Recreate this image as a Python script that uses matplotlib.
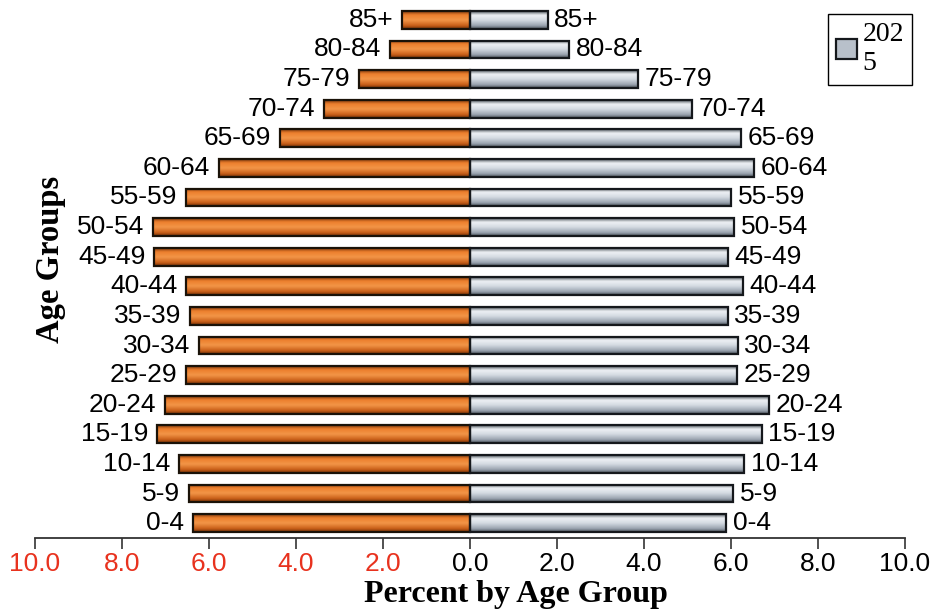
import matplotlib.pyplot as plt
import numpy as np
from matplotlib.colors import LinearSegmentedColormap
from matplotlib.patches import Patch

# Age groups, bottom to top
age_groups = ['0-4', '5-9', '10-14', '15-19', '20-24', '25-29', '30-34', '35-39', '40-44',
              '45-49', '50-54', '55-59', '60-64', '65-69', '70-74', '75-79', '80-84', '85+']

# Percent of population in each age group
male = [6.37, 6.46, 6.69, 7.20, 7.01, 6.53, 6.23, 6.44, 6.53,
        7.26, 7.29, 6.53, 5.77, 4.37, 3.36, 2.55, 1.84, 1.56]
female = [5.89, 6.05, 6.30, 6.71, 6.87, 6.14, 6.16, 5.93, 6.28,
          5.93, 6.07, 6.00, 6.53, 6.23, 5.10, 3.86, 2.28, 1.79]

x_ticks = [-10, -8, -6, -4, -2, 0, 2, 4, 6, 8, 10]

# shaded fills for the bars (bottom -> top)
orange_cmap = LinearSegmentedColormap.from_list('orange_bar', [
    (0.0, '#6e3008'), (0.18, '#c85e18'), (0.5, '#f39648'), (0.8, '#ec7e2c'), (1.0, '#7a380c')])
grey_cmap = LinearSegmentedColormap.from_list('grey_bar', [
    (0.0, '#4a5058'), (0.18, '#98a2ae'), (0.5, '#d4dae2'), (0.78, '#eef1f5'), (1.0, '#505860')])

fig = plt.figure(figsize=(9.3, 6.14), dpi=100)
ax = fig.add_axes([0.0376, 0.1238, 0.9355, 0.868])

y = np.arange(len(age_groups))
bar_h = 0.6

left_bars = ax.barh(y, -np.array(male), height=bar_h, color='none',
                    edgecolor='#1a1208', linewidth=1.6, zorder=3)
right_bars = ax.barh(y, female, height=bar_h, color='none',
                     edgecolor='#15181c', linewidth=1.6, zorder=3)

grad = np.linspace(0, 1, 64).reshape(-1, 1)
for bars, cmap in [(left_bars, orange_cmap), (right_bars, grey_cmap)]:
    for b in bars:
        x0, y0 = b.get_x(), b.get_y()
        w, h = b.get_width(), b.get_height()
        ax.imshow(grad, extent=(x0, x0 + w, y0, y0 + h), cmap=cmap, origin='lower',
                  aspect='auto', interpolation='bicubic', zorder=2)

for i, label in enumerate(age_groups):
    ax.text(-male[i] - 0.2, y[i], label, ha='right', va='center',
            fontsize=19, family='Liberation Sans')
    ax.text(female[i] + 0.15, y[i], label, ha='left', va='center',
            fontsize=19, family='Liberation Sans')

ax.set_xlim(-10, 10)
ax.set_ylim(-0.5, len(age_groups) - 0.5)

ax.set_xticks(x_ticks)
ax.set_xticklabels(['%.1f' % abs(t) for t in x_ticks], fontsize=19, family='Liberation Sans')
for t, lab in zip(x_ticks, ax.get_xticklabels()):
    lab.set_color('#e8321e' if t < 0 else 'black')
ax.tick_params(axis='x', direction='out', length=8, width=1.2, color='#333333', pad=2)
ax.set_yticks([])

for side in ['top', 'left', 'right']:
    ax.spines[side].set_visible(False)
ax.spines['bottom'].set_linewidth(1.3)
ax.spines['bottom'].set_color('#333333')

fig.text(0.555, 0.031, 'Percent by Age Group', ha='center', va='center',
         fontsize=23, fontweight='bold', family='Liberation Serif')
fig.text(0.054, 0.577, 'Age Groups', rotation=90, ha='center', va='center',
         fontsize=23.5, fontweight='bold', family='Liberation Serif')

handle = Patch(facecolor='#b8c0ca', edgecolor='#15181c', linewidth=1.6)
leg = fig.legend([handle], ['202\n5'], loc='upper right', bbox_to_anchor=(0.981, 0.977),
                 fancybox=False, framealpha=1, edgecolor='black',
                 prop={'family': 'Liberation Serif', 'size': 20},
                 handlelength=0.75, handleheight=0.75, handletextpad=0.2,
                 borderpad=0.3, borderaxespad=0)
leg.get_frame().set_linewidth(1.0)

fig.savefig('out.png', dpi=100)
